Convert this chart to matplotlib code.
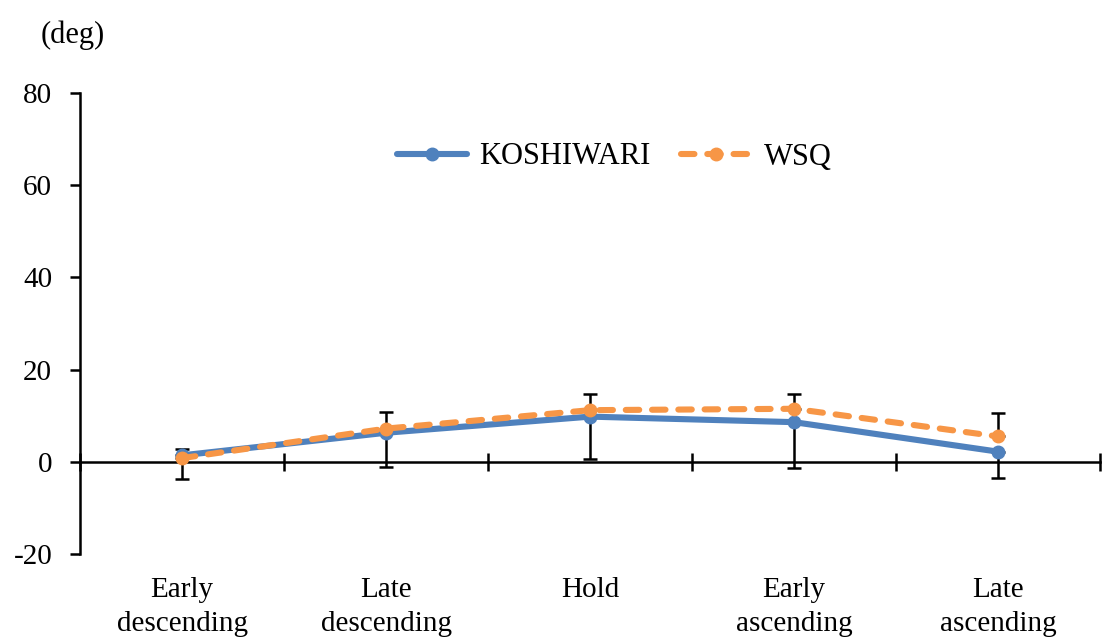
import matplotlib
matplotlib.use("Agg")
import matplotlib.pyplot as plt
import numpy as np

# Phase labels and mean angles (deg) with standard deviations
phases = ["Early\ndescending", "Late\ndescending", "Hold", "Early\nascending", "Late\nascending"]
koshiwari_mean = [1.4, 6.3, 9.8, 8.6, 2.2]
koshiwari_sd = [5.2, 7.5, 9.1, 10.0, 5.7]
wsq_mean = [0.8, 7.2, 11.2, 11.5, 5.5]
wsq_sd = [1.9, 3.6, 3.5, 3.2, 5.1]
y_ticks = [-20, 0, 20, 40, 60, 80]

BLUE = "#4F81BD"
ORANGE = "#F79646"
FS = 21

plt.rcParams["font.family"] = ["Liberation Serif", "DejaVu Serif"]
plt.rcParams["axes.unicode_minus"] = False

fig = plt.figure(figsize=(11.12, 6.4), dpi=100)
ax = fig.add_axes([80 / 1112, 1 - 554 / 640, 1020 / 1112, (554 - 93) / 640])

x = np.arange(1, len(phases) + 1)

# One-sided error bars: KOSHIWARI downward, WSQ upward
ax.errorbar(x, koshiwari_mean, yerr=[koshiwari_sd, np.zeros(len(x))], fmt="none",
            ecolor="black", elinewidth=1.8, capsize=5, capthick=1.8, zorder=2)
ax.errorbar(x, wsq_mean, yerr=[np.zeros(len(x)), wsq_sd], fmt="none",
            ecolor="black", elinewidth=1.8, capsize=5, capthick=1.8, zorder=2)

ax.plot(x, koshiwari_mean, color=BLUE, lw=4.4, marker="o", ms=9,
        solid_capstyle="round", solid_joinstyle="round", label="KOSHIWARI", zorder=3)
ax.plot(x, wsq_mean, color=ORANGE, lw=4.4, marker="o", ms=9,
        dashes=(2.2, 2.1), dash_capstyle="round", label="WSQ", zorder=4)

ax.set_xlim(0.5, len(phases) + 0.5)
ax.set_ylim(-20, 80)

for side in ("top", "right"):
    ax.spines[side].set_visible(False)
ax.spines["bottom"].set_position(("data", 0))
ax.spines["bottom"].set_linewidth(1.8)
ax.spines["left"].set_linewidth(1.8)

ax.set_yticks(y_ticks)
ax.tick_params(axis="y", direction="out", length=7, width=1.8, labelsize=FS, pad=13)

# Boundary ticks crossing the zero line, category names underneath the plot
ax.set_xticks(np.arange(0.5, len(phases) + 1, 1.0))
ax.set_xticklabels([])
ax.tick_params(axis="x", which="major", direction="inout", length=13, width=1.8)
ax.set_xticks(x, minor=True)
ax.set_xticklabels(phases, minor=True, fontsize=FS, linespacing=1.4)
ax.tick_params(axis="x", which="minor", length=0, pad=83)

fig.text(73 / 1112, 1 - 35 / 640, "(deg)", fontsize=22, ha="center", va="center")

fig.legend(loc="center", bbox_to_anchor=(614 / 1112, 1 - 157 / 640), ncol=2,
           frameon=False, fontsize=22, handlelength=2.3, handletextpad=0.4,
           columnspacing=1.0)

fig.savefig("out.png", dpi=100)
